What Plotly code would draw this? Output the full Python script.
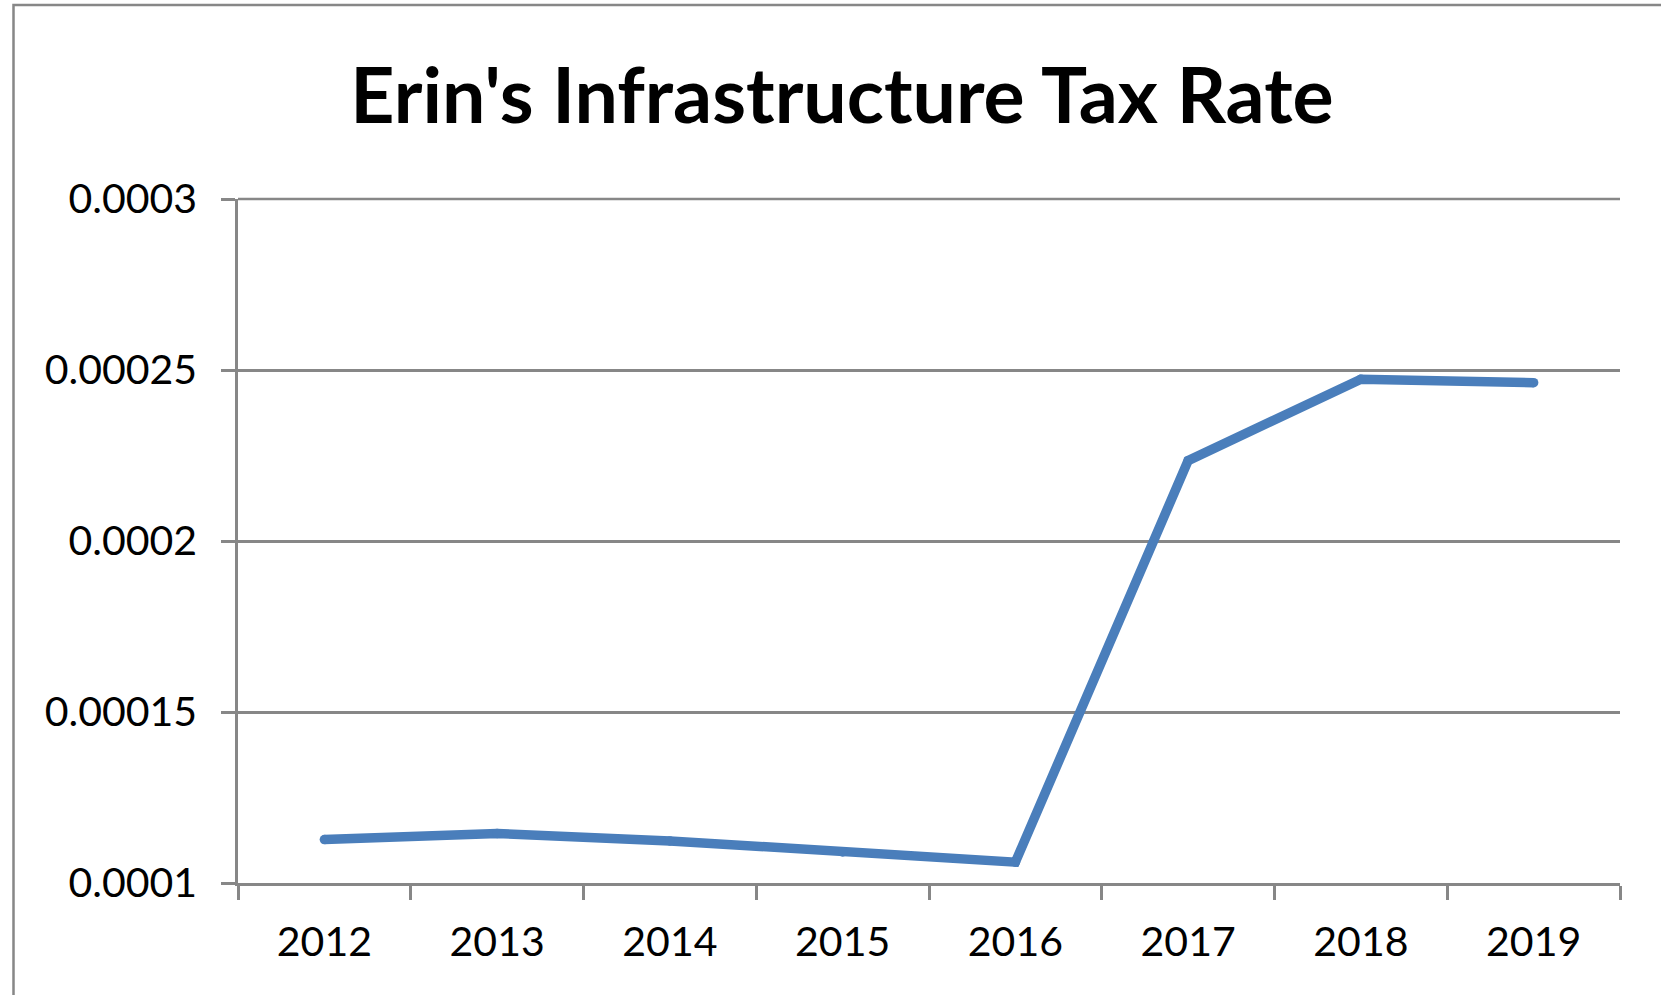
import plotly.graph_objects as go

# Series data
years = ["2012", "2013", "2014", "2015", "2016", "2017", "2018", "2019"]
tax_rate = [0.0001127, 0.0001145, 0.0001123, 0.0001091, 0.0001061, 0.0002235, 0.0002473, 0.0002463]

# Value axis ticks
y_tick_vals = [0.0001, 0.00015, 0.0002, 0.00025, 0.0003]
y_tick_text = ["0.0001", "0.00015", "0.0002", "0.00025", "0.0003"]

title_text = "Erin's Infrastructure Tax Rate"

LINE_BLUE = "#4A7EBB"
GRID_GRAY = "#878787"
W, H = 1661, 995
L, R, T, B = 238, 41, 199, 112

fig = go.Figure()
fig.add_trace(go.Scatter(
    x=years, y=tax_rate, mode="lines+markers",
    line=dict(color=LINE_BLUE, width=9.5),
    marker=dict(color=LINE_BLUE, size=9.5, line=dict(width=0)),
    hoverinfo="skip", showlegend=False,
))

plot_w = W - L - R
plot_h = H - T - B

# Outer chart-area frame (left and top edges visible on the page)
fig.add_shape(
    type="rect", xref="paper", yref="paper",
    x0=(13.5 - L) / plot_w, x1=1.2,
    y0=-0.4, y1=(H - B - 5) / plot_h,
    line=dict(color=GRID_GRAY, width=2.5), fillcolor="rgba(0,0,0,0)",
    layer="below",
)

# Gridline along the top of the value range (Plotly skips a grid line on the plot edge)
fig.add_shape(
    type="line", xref="paper", yref="paper",
    x0=0, x1=1, y0=1, y1=1,
    line=dict(color=GRID_GRAY, width=2.5), layer="below",
)

fig.update_layout(
    width=W, height=H,
    margin=dict(l=L, r=R, t=T, b=B),
    paper_bgcolor="white", plot_bgcolor="white",
    font=dict(family="Lato", color="black"),
    title=dict(
        text=title_text,
        font=dict(family="Lato", size=77, weight="bold", color="black"),
        x=(842 - L) / plot_w, xref="paper", xanchor="center",
        y=1 - 96 / H, yref="container", yanchor="middle",
    ),
    xaxis=dict(
        type="category", range=[-0.5, 7.5],
        tickson="boundaries", ticks="outside", ticklen=14, tickwidth=2.5,
        tickcolor=GRID_GRAY, showline=True, linecolor=GRID_GRAY, linewidth=2.5,
        showgrid=False, zeroline=False,
        tickfont=dict(family="Lato", size=41, color="black"),
        ticklabelstandoff=21,
    ),
    yaxis=dict(
        range=[y_tick_vals[0], y_tick_vals[-1]],
        tickvals=y_tick_vals, ticktext=y_tick_text,
        ticks="outside", ticklen=14, tickwidth=2.5, tickcolor=GRID_GRAY,
        showline=True, linecolor=GRID_GRAY, linewidth=2.5,
        showgrid=True, gridcolor=GRID_GRAY, gridwidth=2.5,
        zeroline=False,
        tickfont=dict(family="Lato", size=41, color="black"),
        ticklabelstandoff=16,
    ),
)

fig.write_html("out.html")
